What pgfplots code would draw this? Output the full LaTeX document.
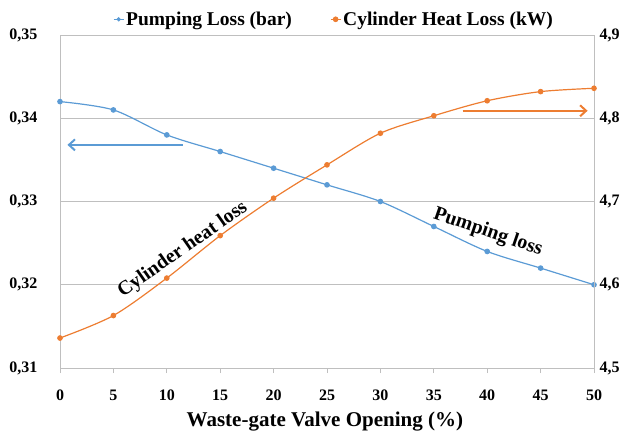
\documentclass[border=0pt]{standalone}
\usepackage{fontspec}
\setmainfont{Liberation Serif}
\usepackage{pgfplots}
\pgfplotsset{compat=1.18}
\usetikzlibrary{arrows.meta}
\definecolor{pblue}{HTML}{5B9BD5}
\definecolor{porange}{HTML}{ED7D31}
\definecolor{gridgray}{HTML}{BFBFBF}
\begin{document}
\begin{tikzpicture}
\useasboundingbox (-60pt,-63pt) rectangle (572pt,368pt);
\pgfplotsset{
  base/.style={
    scale only axis, width=534pt, height=333pt,
    at={(0pt,0pt)}, anchor=south west,
    xmin=0, xmax=50,
    /pgf/number format/assume math mode=true,
    tick label style={font=\fontsize{16}{16}\selectfont\bfseries},
    axis line style={gridgray, line width=0.8pt},
  }
}
\begin{axis}[base,
  axis x line*=bottom, axis y line*=left,
  ymin=0.31, ymax=0.35,
  ytick={0.31,0.32,0.33,0.34,0.35},
  xtick={0,5,...,50},
  ymajorgrids, grid style={gridgray, line width=0.8pt},
  ytick style={draw=none},
  xtick style={gridgray, line width=0.8pt},
  tick align=outside, major tick length=5pt,
  yticklabel style={/pgf/number format/fixed, /pgf/number format/fixed zerofill, /pgf/number format/precision=2, /pgf/number format/use comma, /tikz/xshift=-14pt},
  xticklabel style={yshift=-13pt},
  xlabel={Waste-gate Valve Opening (\%)},
  xlabel style={font=\fontsize{21}{21}\selectfont\bfseries, at={(axis description cs:0.496,0)}, anchor=base, yshift=-58pt},
]
\addplot[pblue, line width=1.2pt, smooth, mark=*, mark size=2.2pt] coordinates {
 (0,0.342) (5,0.341) (10,0.338) (15,0.336) (20,0.334) (25,0.332)
 (30,0.330) (35,0.327) (40,0.324) (45,0.322) (50,0.320)};
\draw[pblue, line width=2pt, -{Straight Barb[length=6pt,width=11pt]}] (axis cs:11.5,0.3368) -- (axis cs:0.7,0.3368);
\node[rotate=35, font=\fontsize{20}{20}\selectfont\bfseries] at (axis cs:11.5,0.3242) {Cylinder heat loss};
\node[rotate=-19, font=\fontsize{20}{20}\selectfont\bfseries] at (axis cs:40.07,0.3263) {Pumping loss};
\end{axis}
\begin{axis}[base,
  axis x line=none, axis y line*=right,
  ymin=4.5, ymax=4.9,
  ytick={4.5,4.6,4.7,4.8,4.9},
  ytick style={draw=none},
  yticklabel style={/pgf/number format/fixed, /pgf/number format/fixed zerofill, /pgf/number format/precision=1, /pgf/number format/use comma, /tikz/xshift=2pt},
  legend columns=2,
  legend style={draw=none, fill=none, at={(0.513,1)}, anchor=south, yshift=4pt,
    font=\fontsize{19.5}{19.5}\selectfont\bfseries,
    /tikz/every even column/.append style={column sep=36pt}},
  legend image code/.code={\draw[mark repeat=2,mark phase=2,#1] plot coordinates {(0pt,0pt) (5pt,0pt) (10pt,0pt)};},
]
\addlegendimage{pblue, line width=1.2pt, mark=*, mark size=1.5pt}
\addlegendentry{Pumping Loss (bar)}
\addplot[porange, line width=1.2pt, smooth, mark=*, mark size=2.2pt] coordinates {
 (0,4.536) (5,4.563) (10,4.608) (15,4.659) (20,4.704) (25,4.744)
 (30,4.782) (35,4.803) (40,4.821) (45,4.832) (50,4.836)};
\addlegendentry{Cylinder Heat Loss (kW)}
\draw[porange, line width=2pt, -{Straight Barb[length=6pt,width=11pt]}] (axis cs:37.7,4.809) -- (axis cs:49.4,4.809);
\end{axis}
\end{tikzpicture}
\end{document}
